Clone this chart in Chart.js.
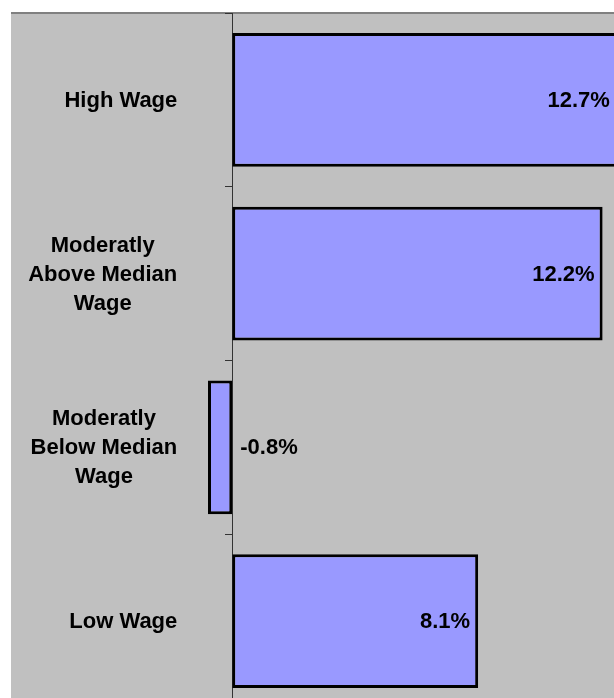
<!DOCTYPE html>
<html>
<head>
<meta charset="utf-8">
<script src="https://cdn.jsdelivr.net/npm/chart.js@4/dist/chart.umd.min.js"></script>
<style>
  html, body { margin: 0; padding: 0; background: #fff; overflow: hidden; }
  canvas { display: block; }
</style>
</head>
<body>
<canvas id="wageChart" width="636" height="708"></canvas>
<script>
  // wage categories, one array of lines per label
  const categories = [
    ['High Wage'],
    ['Moderatly', 'Above Median', 'Wage'],
    ['Moderatly', 'Below Median', 'Wage'],
    ['Low Wage']
  ];
  const growth = [12.7, 12.2, -0.8, 8.1];
  const valueLabels = ['12.7%', '12.2%', '-0.8%', '8.1%'];

  const FONT = 'bold 22px "Liberation Sans", Arial, sans-serif';

  const plotBackground = {
    id: 'plotBackground',
    beforeDraw(chart) {
      const { ctx, chartArea } = chart;
      ctx.save();
      ctx.fillStyle = '#c0c0c0';
      ctx.fillRect(chartArea.left, chartArea.top, chart.width - chartArea.left, chart.height - chartArea.top);
      ctx.fillStyle = '#808080';
      ctx.fillRect(chartArea.left, chartArea.top - 1, chart.width - chartArea.left, 2);
      ctx.restore();
    }
  };

  const textLabels = {
    id: 'textLabels',
    afterDatasetsDraw(chart) {
      const { ctx } = chart;
      const xs = chart.scales.x;
      const ys = chart.scales.y;
      const zero = xs.getPixelForValue(0);
      ctx.save();
      ctx.font = FONT;
      ctx.fillStyle = '#000';
      ctx.textBaseline = 'middle';

      // category labels: block right edge fixed, lines centred in block
      const lineH = 29;
      categories.forEach((lines, i) => {
        const cy = ys.getPixelForValue(i) + 1;
        const blockW = Math.max(...lines.map(l => ctx.measureText(l).width));
        const cx = zero - 55 - blockW / 2;
        ctx.textAlign = 'center';
        lines.forEach((l, j) => {
          ctx.fillText(l, cx, cy + (j - (lines.length - 1) / 2) * lineH);
        });
      });

      // value labels
      chart.getDatasetMeta(0).data.forEach((bar, i) => {
        if (growth[i] >= 0) {
          ctx.textAlign = 'right';
          ctx.fillText(valueLabels[i], bar.x - 8, bar.y + 1);
        } else {
          ctx.textAlign = 'left';
          ctx.fillText(valueLabels[i], zero + 8, bar.y + 1);
        }
      });
      ctx.restore();
    }
  };

  new Chart(document.getElementById('wageChart'), {
    type: 'bar',
    data: {
      labels: categories,
      datasets: [{
        data: growth,
        backgroundColor: '#9999ff',
        borderColor: '#000',
        borderWidth: 3,
        borderSkipped: false,
        categoryPercentage: 1,
        barPercentage: 0.77
      }]
    },
    options: {
      indexAxis: 'y',
      responsive: false,
      animation: false,
      devicePixelRatio: 1,
      layout: { padding: { top: 13, left: 11, right: 0, bottom: 0 } },
      plugins: { legend: { display: false }, tooltip: { enabled: false } },
      scales: {
        x: {
          type: 'linear',
          min: -7.29,
          max: 13.3,
          display: false
        },
        y: {
          position: { x: 0 },
          grid: { offset: true, drawOnChartArea: false, tickLength: 7, color: '#333', lineWidth: 1 },
          border: { color: '#333', width: 1 },
          ticks: { display: false }
        }
      }
    },
    plugins: [plotBackground, textLabels]
  });
</script>
</body>
</html>
